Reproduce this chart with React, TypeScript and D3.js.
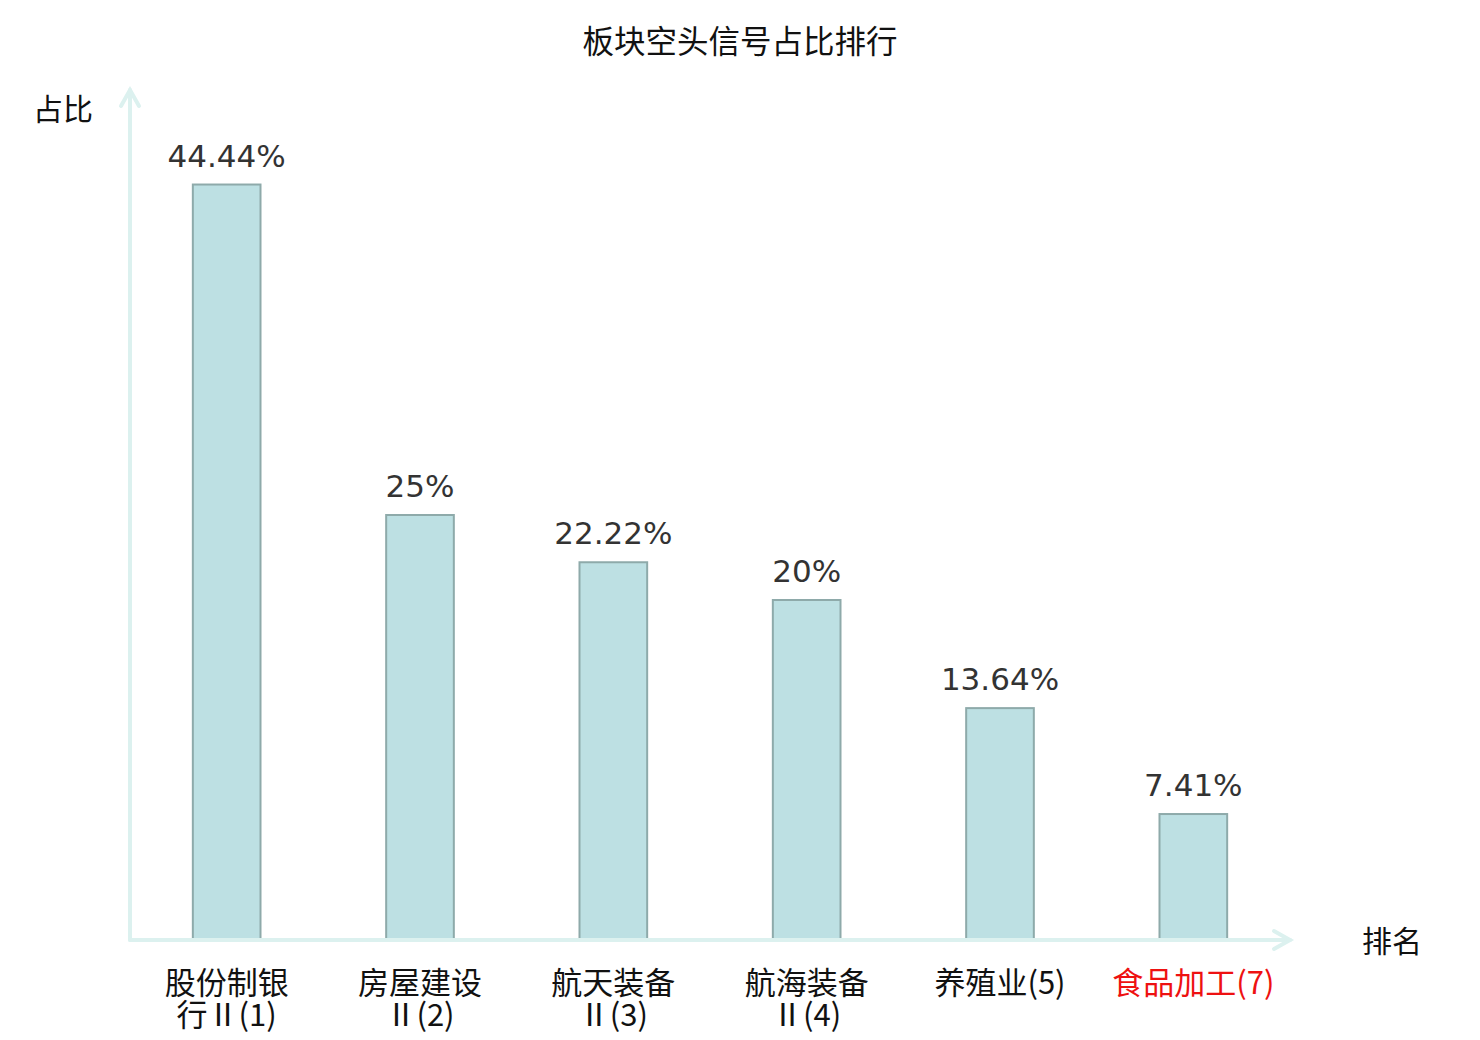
import { useEffect, useRef } from "react";
import * as d3 from "d3";

// chart data
const categories = ["股份制银行Ⅱ(1)", "房屋建设Ⅱ(2)", "航天装备Ⅱ(3)", "航海装备Ⅱ(4)", "养殖业(5)", "食品加工(7)"];
const labelLines = [
  ["股份制银", "行Ⅱ(1)"],
  ["房屋建设", "Ⅱ(2)"],
  ["航天装备", "Ⅱ(3)"],
  ["航海装备", "Ⅱ(4)"],
  ["养殖业(5)"],
  ["食品加工(7)"],
];
const values = [44.44, 25, 22.22, 20, 13.64, 7.41];
const valueLabels = ["44.44%", "25%", "22.22%", "20%", "13.64%", "7.41%"];
const highlighted = ["食品加工(7)"];

const W = 1480;
const H = 1040;
const CJK = "'Noto Sans CJK SC', 'DejaVu Sans', sans-serif";
const LATIN = "'DejaVu Sans', 'Noto Sans CJK SC', sans-serif";

export default function App() {
  const svgRef = useRef<SVGSVGElement>(null);

  useEffect(() => {
    if (!svgRef.current) return;
    const svg = d3.select(svgRef.current);
    svg.selectAll("*").remove();

    const left = 130, right = 1290, top = 90, bottom = 940;
    const axisColor = "#dcf1ef";

    const x = d3.scaleBand<string>()
      .domain(categories)
      .range([left, right])
      .paddingInner(0.65)
      .paddingOuter(0.325);

    const y = d3.scaleLinear().domain([0, 50]).range([bottom, top]);

    // title
    svg.append("text")
      .attr("x", 740)
      .attr("y", 53)
      .attr("text-anchor", "middle")
      .style("font-family", CJK)
      .style("font-size", "31.5px")
      .style("fill", "#111")
      .text("板块空头信号占比排行");

    // axis names
    svg.append("text")
      .attr("x", 63)
      .attr("y", 120)
      .attr("text-anchor", "middle")
      .style("font-family", CJK)
      .style("font-size", "30px")
      .style("fill", "#111")
      .text("占比");

    svg.append("text")
      .attr("x", 1392)
      .attr("y", 952)
      .attr("text-anchor", "middle")
      .style("font-family", CJK)
      .style("font-size", "30px")
      .style("fill", "#111")
      .text("排名");

    // bars
    svg.selectAll("rect.bar")
      .data(values)
      .enter()
      .append("rect")
      .attr("class", "bar")
      .attr("x", (d, i) => x(categories[i])!)
      .attr("y", d => y(d))
      .attr("width", x.bandwidth())
      .attr("height", d => y(0) - y(d))
      .attr("fill", "#bde0e3")
      .attr("stroke", "#8eaaaa")
      .attr("stroke-width", 2);

    // value labels
    svg.selectAll("text.val")
      .data(values)
      .enter()
      .append("text")
      .attr("class", "val")
      .attr("x", (d, i) => x(categories[i])! + x.bandwidth() / 2)
      .attr("y", d => y(d) - 18)
      .attr("text-anchor", "middle")
      .style("font-family", LATIN)
      .style("font-size", "31px")
      .style("fill", "#333")
      .text((d, i) => valueLabels[i]);

    // axes with arrows
    const g = svg.append("g")
      .attr("stroke", axisColor)
      .attr("stroke-width", 4)
      .attr("fill", "none")
      .attr("stroke-linecap", "round");
    g.append("line").attr("x1", left).attr("y1", bottom).attr("x2", left).attr("y2", top);
    g.append("path").attr("d", `M${left - 9},${top + 16}L${left},${top}L${left + 9},${top + 16}`);
    g.append("line").attr("x1", left).attr("y1", bottom).attr("x2", right).attr("y2", bottom);
    g.append("path").attr("d", `M${right - 16},${bottom - 9}L${right},${bottom}L${right - 16},${bottom + 9}`);

    // category labels
    const cat = svg.selectAll("text.cat")
      .data(categories)
      .enter()
      .append("text")
      .attr("class", "cat")
      .attr("x", d => x(d)! + x.bandwidth() / 2)
      .attr("y", 994)
      .attr("text-anchor", "middle")
      .style("font-family", CJK)
      .style("font-size", "31px")
      .style("fill", d => highlighted.includes(d) ? "#ee1111" : "#111");

    cat.each(function (d, i) {
      const t = d3.select(this);
      labelLines[i].forEach((line, j) => {
        t.append("tspan")
          .attr("x", x(d)! + x.bandwidth() / 2)
          .attr("dy", j === 0 ? 0 : 32)
          .text(line);
      });
    });
  }, []);

  return (
    <div style={{ position: "absolute", left: 0, top: 0, width: W, height: H }}>
      <svg ref={svgRef} width={W} height={H} style={{ display: "block", background: "#fff" }} />
    </div>
  );
}
